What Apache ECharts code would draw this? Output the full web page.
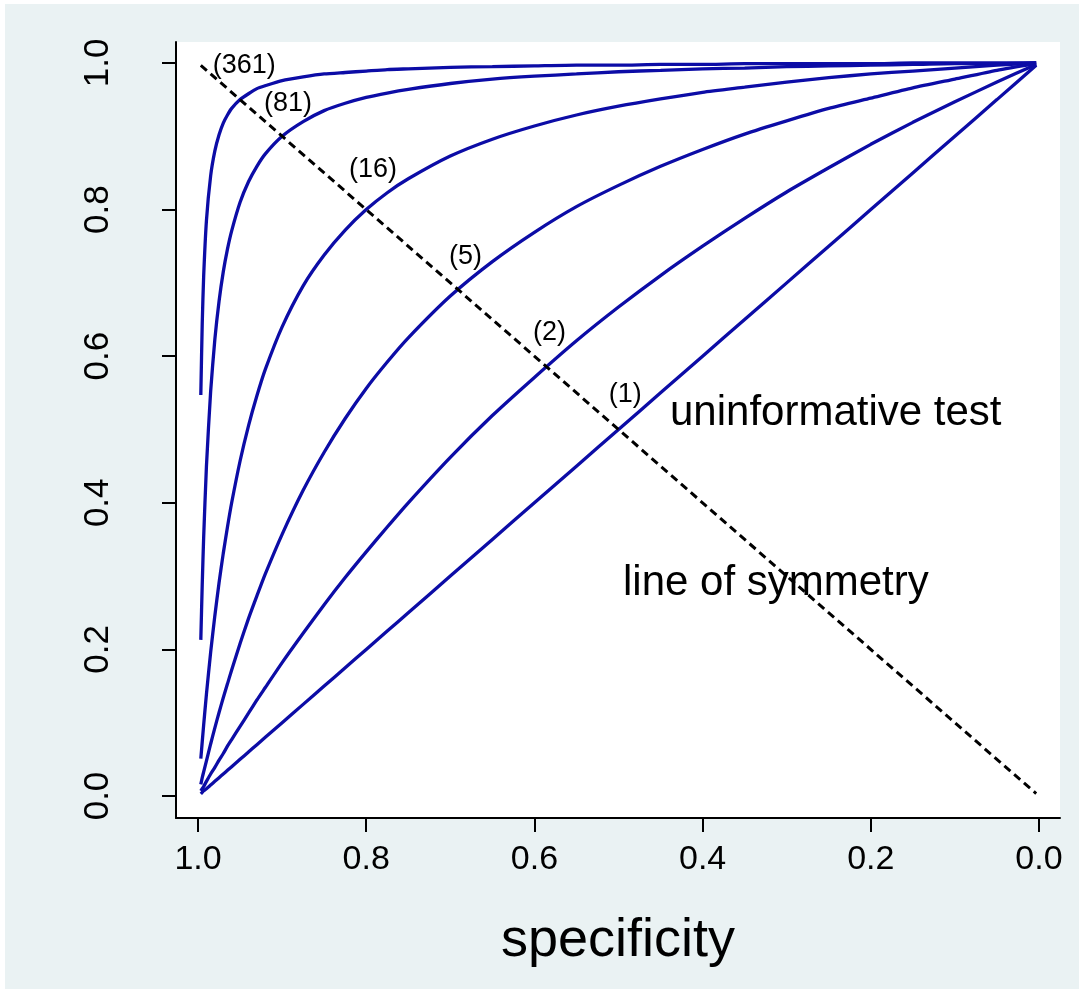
<!DOCTYPE html>
<html>
<head>
<meta charset="utf-8">
<title>ROC curves by diagnostic odds ratio</title>
<script src="https://cdn.jsdelivr.net/npm/echarts@6/dist/echarts.min.js"></script>
<style>
  html, body { margin: 0; padding: 0; background: #ffffff; }
  #chart { position: absolute; left: 5px; top: 4px; width: 1074px; height: 985px; }
</style>
</head>
<body>
<div id="chart"></div>
<script>
// Specificity values shared by every curve (x axis, drawn reversed)
const specGrid = [0.9967, 0.995, 0.9933, 0.99, 0.985, 0.98, 0.975, 0.97, 0.965, 0.96, 0.95, 0.94, 0.93, 0.92,
                  0.9, 0.875, 0.85, 0.825, 0.8, 0.775, 0.75, 0.7, 0.65, 0.6, 0.55, 0.5, 0.45, 0.4, 0.35, 0.3,
                  0.25, 0.2, 0.15, 0.1, 0.05, 0.0033];

// Sensitivity for each diagnostic odds ratio
const sens361 = [0.547, 0.645, 0.709, 0.785, 0.846, 0.880, 0.902, 0.918, 0.929, 0.938, 0.950, 0.958, 0.965, 0.969,
                 0.976, 0.981, 0.985, 0.987, 0.989, 0.991, 0.992, 0.994, 0.995, 0.996, 0.997, 0.997, 0.998, 0.998,
                 0.999, 0.999, 0.999, 0.999, 1.000, 1.000, 1.000, 1.000];
const sens81  = [0.213, 0.289, 0.353, 0.450, 0.552, 0.623, 0.675, 0.715, 0.746, 0.771, 0.810, 0.838, 0.859, 0.876,
                 0.900, 0.920, 0.935, 0.945, 0.953, 0.959, 0.964, 0.972, 0.978, 0.982, 0.985, 0.988, 0.990, 0.992,
                 0.993, 0.995, 0.996, 0.997, 0.998, 0.999, 0.999, 1.000];
const sens16  = [0.051, 0.074, 0.097, 0.139, 0.196, 0.246, 0.291, 0.331, 0.367, 0.400, 0.457, 0.505, 0.546, 0.582,
                 0.640, 0.696, 0.738, 0.772, 0.800, 0.823, 0.842, 0.873, 0.896, 0.914, 0.929, 0.941, 0.951, 0.960,
                 0.967, 0.974, 0.980, 0.985, 0.989, 0.993, 0.997, 1.000];
const sens5   = [0.016, 0.025, 0.033, 0.048, 0.071, 0.093, 0.114, 0.134, 0.153, 0.172, 0.208, 0.242, 0.273, 0.303,
                 0.357, 0.417, 0.469, 0.515, 0.556, 0.592, 0.625, 0.682, 0.729, 0.769, 0.804, 0.833, 0.859, 0.882,
                 0.903, 0.921, 0.938, 0.952, 0.966, 0.978, 0.990, 0.999];
const sens2   = [0.007, 0.010, 0.013, 0.020, 0.030, 0.039, 0.049, 0.058, 0.068, 0.077, 0.095, 0.113, 0.131, 0.148,
                 0.182, 0.222, 0.261, 0.298, 0.333, 0.367, 0.400, 0.462, 0.519, 0.571, 0.621, 0.667, 0.710, 0.750,
                 0.788, 0.824, 0.857, 0.889, 0.919, 0.947, 0.974, 0.998];
const sens1   = [0.003, 0.005, 0.007, 0.010, 0.015, 0.020, 0.025, 0.030, 0.035, 0.040, 0.050, 0.060, 0.070, 0.080,
                 0.100, 0.125, 0.150, 0.175, 0.200, 0.225, 0.250, 0.300, 0.350, 0.400, 0.450, 0.500, 0.550, 0.600,
                 0.650, 0.700, 0.750, 0.800, 0.850, 0.900, 0.950, 0.997];

// Line of symmetry (sensitivity = specificity)
const symSpec = [0.9967, 0.0033];
const symSens = [0.9967, 0.0033];

// Curve labels and where they sit
const oddsLabels = ['(361)', '(81)', '(16)', '(5)', '(2)', '(1)'];
const labelSpec  = [0.945, 0.893, 0.792, 0.682, 0.582, 0.492];
const labelSens  = [0.997, 0.945, 0.854, 0.736, 0.632, 0.548];

// Axis ticks
const tickValues = [0, 0.2, 0.4, 0.6, 0.8, 1.0];

const FONT = "'Liberation Sans', Arial, Helvetica, sans-serif";
const CURVE = '#0c0ca6';

const curves = [sens361, sens81, sens16, sens5, sens2, sens1];

const chart = echarts.init(document.getElementById('chart'), null, { renderer: 'canvas' });

const series = curves.map(function (s, i) {
  return {
    type: 'line',
    name: oddsLabels[i],
    data: specGrid.map(function (x, k) { return [x, s[k]]; }),
    showSymbol: false,
    symbol: 'none',
    smooth: 0.2,
    lineStyle: { color: CURVE, width: 3.3 },
    z: 2,
    silent: true
  };
});

series.push({
  type: 'line',
  name: 'symmetry',
  data: symSpec.map(function (x, k) { return [x, symSens[k]]; }),
  showSymbol: false,
  symbol: 'none',
  lineStyle: { color: '#000000', width: 3, type: [8, 5] },
  z: 3,
  silent: true
});

series.push({
  type: 'scatter',
  name: 'labels',
  data: labelSpec.map(function (x, k) { return { value: [x, labelSens[k]], name: oddsLabels[k] }; }),
  symbolSize: 0,
  itemStyle: { color: '#000000' },
  label: {
    show: true,
    position: [0, 0],
    align: 'center',
    verticalAlign: 'middle',
    formatter: function (p) { return p.name; },
    color: '#000000',
    opacity: 1,
    textBorderWidth: 0,
    fontFamily: FONT,
    fontSize: 27
  },
  z: 4,
  silent: true
});

chart.setOption({
  backgroundColor: '#eaf2f3',
  animation: false,
  textStyle: { fontFamily: FONT },
  grid: {
    left: 171, top: 38, width: 884, height: 776,
    show: true, backgroundColor: '#ffffff', borderWidth: 0
  },
  xAxis: {
    type: 'value',
    inverse: true,
    min: -0.0250,
    max: 1.0262,
    name: 'specificity',
    nameLocation: 'middle',
    nameGap: 96,
    nameTextStyle: { fontFamily: FONT, fontSize: 54, color: '#000000' },
    axisLine: { show: true, onZero: false, lineStyle: { color: '#000000', width: 2 } },
    axisTick: { show: true, customValues: tickValues, length: 14, lineStyle: { color: '#000000', width: 2 } },
    axisLabel: {
      customValues: tickValues,
      margin: 25,
      fontFamily: FONT, fontSize: 34, color: '#000000',
      formatter: function (v) { return v.toFixed(1); }
    },
    splitLine: { show: false }
  },
  yAxis: {
    type: 'value',
    min: -0.030,
    max: 1.0286,
    axisLine: { show: true, onZero: false, lineStyle: { color: '#000000', width: 2 } },
    axisTick: { show: true, customValues: tickValues, length: 14, lineStyle: { color: '#000000', width: 2 } },
    axisLabel: {
      customValues: tickValues,
      rotate: 90,
      margin: 60,
      fontFamily: FONT, fontSize: 35, color: '#000000',
      formatter: function (v) { return v.toFixed(1); }
    },
    splitLine: { show: false }
  },
  graphic: [
    {
      type: 'text',
      left: 665, top: 388,
      style: { text: 'uninformative test', fontFamily: FONT, fontSize: 42, fill: '#000000' },
      z: 1
    },
    {
      type: 'text',
      left: 618, top: 558,
      style: { text: 'line of symmetry', fontFamily: FONT, fontSize: 42, fill: '#000000' },
      z: 1
    }
  ],
  series: series
});
</script>
</body>
</html>
